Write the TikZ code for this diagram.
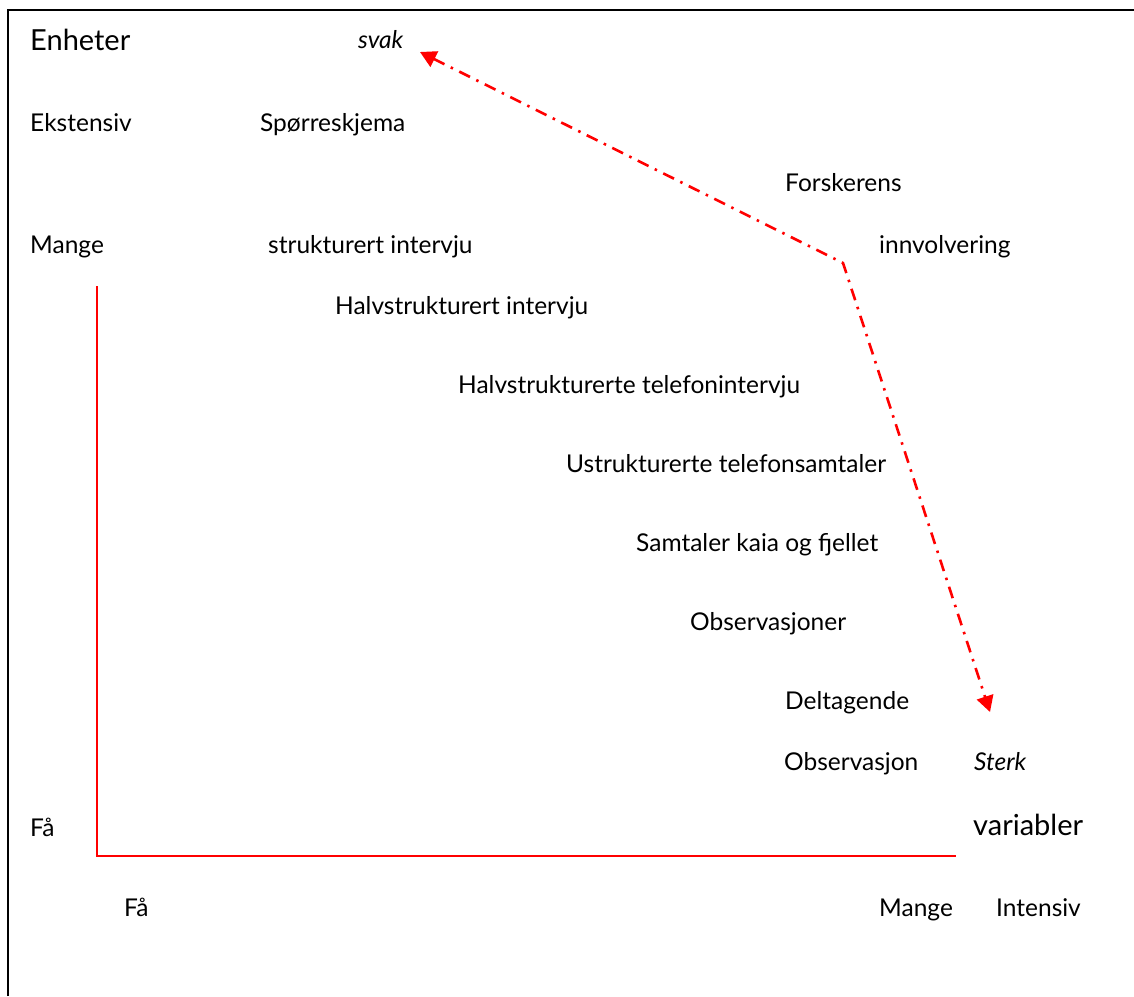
\documentclass[tikz,border=0pt]{standalone}
\usepackage{fontspec}
\setmainfont{Lato}
\usetikzlibrary{arrows.meta}
\begin{document}
\begin{tikzpicture}[x=1pt,y=-1pt,
  lbl/.style={anchor=base west,inner sep=0pt,font=\fontsize{24.5}{27}\selectfont},
  big/.style={anchor=base west,inner sep=0pt,font=\fontsize{29}{32}\selectfont},
  itl/.style={anchor=base west,inner sep=0pt,font=\fontsize{24.5}{27}\selectfont\itshape},
  axis/.style={red,line width=2pt},
  frame/.style={black,line width=2.2pt},
  involve/.style={red,line width=2.6pt,dash pattern=on 12pt off 7pt on 2.5pt off 7pt,
     {Triangle[length=16pt,width=17pt]}-{Triangle[length=16pt,width=17pt]}}]
\useasboundingbox (0,0) rectangle (1134,996);
% frame
\coordinate (fbl) at (8,996);
\coordinate (ftl) at (8,10);
\coordinate (ftr) at (1134,10);
\draw[frame] (fbl) -- (ftl) -- (ftr);
% texts
\node[big] (enheter) at (30,50) {Enheter};
\node[itl] (svak) at (358,48) {svak};
\node[lbl] (ekst) at (30,131) {Ekstensiv};
\node[lbl] (sporre) at (260,131) {Spørreskjema};
\node[lbl] (forsk) at (785,191) {Forskerens};
\node[lbl] (mange1) at (30,253) {Mange};
\node[lbl] (strukt) at (268,253) {strukturert intervju};
\node[lbl] (innv) at (879,253) {innvolvering};
\node[lbl] (halv) at (335,314) {Halvstrukturert intervju};
\node[lbl] (halvtel) at (458,393) {Halvstrukturerte telefonintervju};
\node[lbl] (ustr) at (566,472) {Ustrukturerte telefonsamtaler};
\node[lbl] (samt) at (636,551) {Samtaler kaia og fjellet};
\node[lbl] (obs) at (690,630) {Observasjoner};
\node[lbl] (delt) at (785,709) {Deltagende};
\node[lbl] (obs2) at (784,770) {Observasjon};
\node[itl] (sterk) at (974,770) {Sterk};
\node[lbl] (fa1) at (30,836) {Få};
\node[big] (var) at (973,835) {variabler};
\node[lbl] (fa2) at (124,916) {Få};
\node[lbl] (mange2) at (879,916) {Mange};
\node[lbl] (intens) at (996,916) {Intensiv};
% axes
\coordinate (ytop) at (97,286);
\coordinate (origin) at (97,856);
\coordinate (xend) at (956,856);
\draw[axis] (ytop) -- (origin) -- (xend);
% involvement arrow
\coordinate (svakpt) at (420,52);
\coordinate (apex) at (843,263);
\coordinate (sterkpt) at (990,712);
\draw[involve] (svakpt) -- (apex) -- (sterkpt);
\end{tikzpicture}
\end{document}
